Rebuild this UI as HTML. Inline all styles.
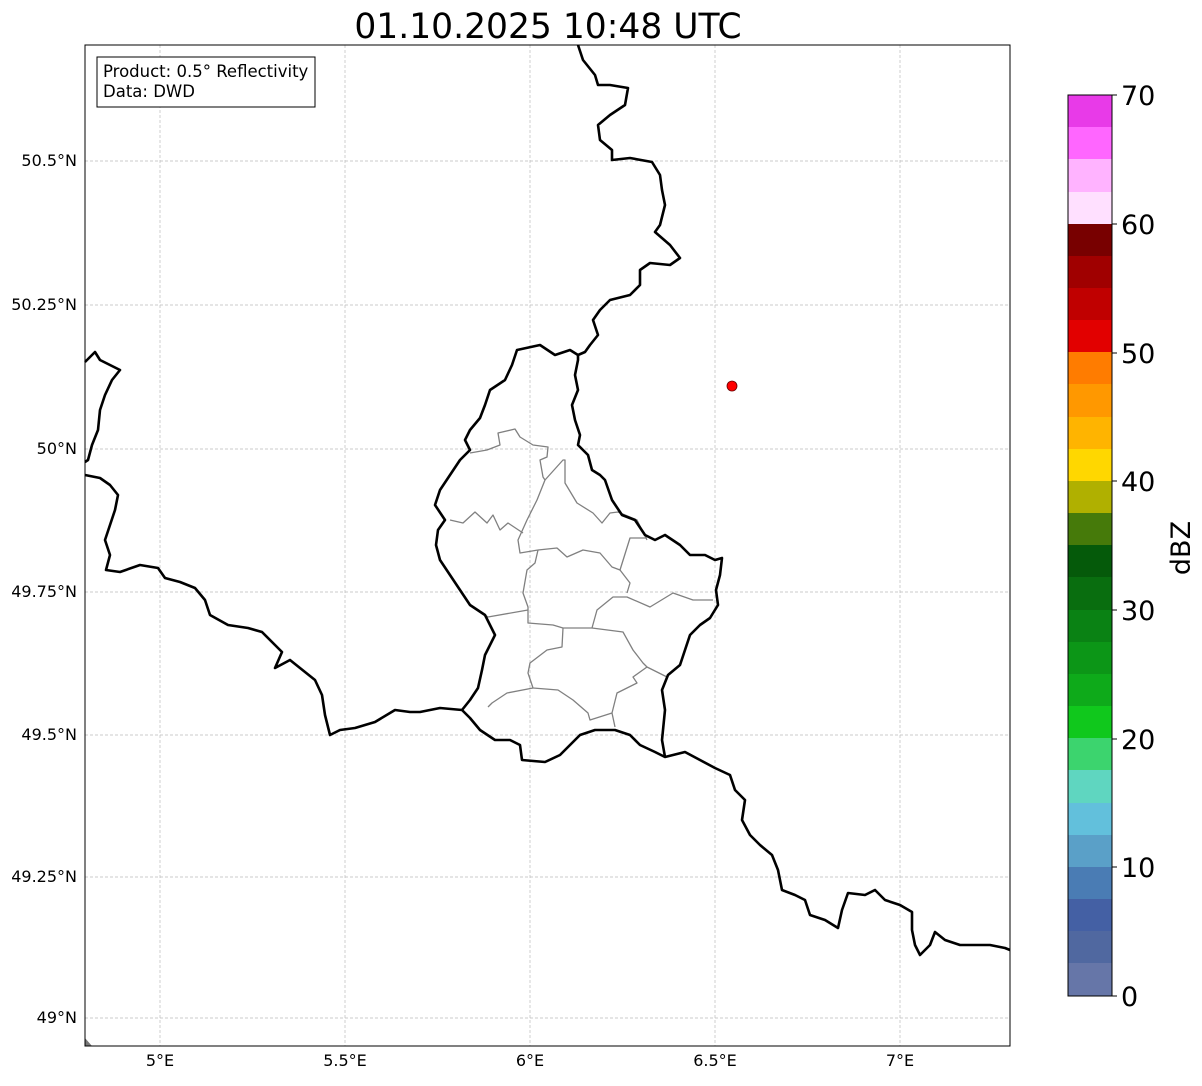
<!DOCTYPE html>
<html><head><meta charset="utf-8"><style>
body{margin:0;background:#fff;}
svg text{font-family:"DejaVu Sans","Liberation Sans",sans-serif;}
</style></head><body>
<svg width="1202" height="1081" xmlns="http://www.w3.org/2000/svg">
<rect width="1202" height="1081" fill="#fff"/>
<text x="548" y="38" font-size="34.5" text-anchor="middle">01.10.2025 10:48 UTC</text>
<g stroke="#bbb" stroke-width="0.7" stroke-dasharray="3,2">
<line x1="160" y1="45" x2="160" y2="1046"/><line x1="345" y1="45" x2="345" y2="1046"/><line x1="530" y1="45" x2="530" y2="1046"/><line x1="715" y1="45" x2="715" y2="1046"/><line x1="900" y1="45" x2="900" y2="1046"/>
<line x1="85" y1="161" x2="1010" y2="161"/><line x1="85" y1="305" x2="1010" y2="305"/><line x1="85" y1="449" x2="1010" y2="449"/><line x1="85" y1="592" x2="1010" y2="592"/><line x1="85" y1="735" x2="1010" y2="735"/><line x1="85" y1="877" x2="1010" y2="877"/><line x1="85" y1="1018" x2="1010" y2="1018"/>
</g>
<g fill="none" stroke="#808080" stroke-width="1.3" stroke-linejoin="round">
<polyline points="470,453 487,450 500,445 498,433 515,429 520,437 533,445 548,447 547,457 540,460 543,477 545,480 537,500 527,520 518,540 520,553 538,550"/>
<polyline points="450,520 463,523 475,512 487,523 493,515 500,530 508,523 523,533"/>
<polyline points="545,480 563,460 565,460 565,483 577,503 593,513 602,523 610,513 618,512 637,520 647,540"/>
<polyline points="538,550 557,548 567,557 583,550 600,553 612,567 620,570 630,538 647,538"/>
<polyline points="620,570 630,583 627,593"/>
<polyline points="538,550 535,563 527,570 523,593 528,607 528,623 553,625 563,628 592,628 597,610 613,597 627,597 650,607 673,593 693,600 713,600"/>
<polyline points="592,628 623,632 633,650 643,663 647,667 667,677"/>
<polyline points="647,667 633,677 637,683 617,693 612,713 615,727"/>
<polyline points="612,713 590,720 588,713 573,700 558,690 533,688 528,673 530,663 547,650 562,647 563,628"/>
<polyline points="528,610 488,617 482,613"/>
<polyline points="533,688 507,693 492,703 488,707"/>
</g>
<g fill="none" stroke="#000" stroke-width="2.6" stroke-linejoin="round">
<polyline points="578,45 583,60 595,75 598,85 610,85 628,88 625,105 610,115 598,125 600,140 612,150 612,160 630,158 652,162 660,175 662,190 665,205 660,225 655,232 670,245 680,258 670,265 650,263 640,270 640,285 630,295 610,300 600,310 593,320 598,335 590,345 585,352 578,355 578,360 575,375 578,390 572,405 575,420 580,435 578,445 588,455 592,470 600,475 605,480 612,500 622,515 635,520 645,535 655,540 665,535 680,545 690,555 705,555 715,560 722,558 720,575 716,590 718,605 710,618 700,625 690,635 685,650 680,665 668,675 662,690 665,710 662,740 665,757"/>
<polyline points="578,355 570,350 555,355 540,345 517,350 512,365 505,380 490,390 485,405 480,418 470,430 465,440 470,450 460,460 450,475 440,490 435,505 445,520 438,530 436,545 440,560 450,575 460,590 470,605 485,615 490,625 495,635 485,655 482,670 478,688 470,700 462,710"/>
<polyline points="85,362 95,352 100,360 110,365 120,370 112,380 105,395 100,410 98,430 92,445 88,460 85,462"/>
<polyline points="85,475 100,478 110,485 118,495 115,510 110,525 105,540 110,555 106,570 120,572 140,565 158,568 165,578 180,582 195,588 205,600 210,615 228,625 248,628 262,632 275,645 282,652 275,668 290,660 300,668 315,680 322,695 325,715 330,735 340,730 355,728 375,722 395,710 410,712 420,712 440,708 462,710 470,718 480,730 495,740 510,740 520,745 522,760 545,762 560,755 570,745 580,735 595,730 615,730 630,735 640,745 655,752 665,757 685,752 700,760 715,768 730,775 735,790 745,800 742,820 750,835 760,845 772,855 778,870 782,890 795,895 805,900 810,915 825,920 838,928 842,910 848,893 865,895 875,890 885,900 900,905 912,912 912,930 915,945 920,955 930,945 935,932 945,940 960,945 975,945 990,945 1005,948 1010,950"/>
</g>
<circle cx="732" cy="386" r="5" fill="#f00" stroke="#600" stroke-width="0.8"/>
<polygon points="85,1038 92,1046 85,1046" fill="#777"/>
<rect x="85" y="45" width="925" height="1001" fill="none" stroke="#000" stroke-width="1"/>
<rect x="97" y="57" width="218" height="50" fill="#fff" stroke="#000" stroke-width="1"/>
<text x="103" y="77" font-size="16.5">Product: 0.5° Reflectivity</text>
<text x="103" y="97" font-size="16.5">Data: DWD</text>
<g font-size="16" text-anchor="end">
<text x="77" y="166">50.5°N</text><text x="77" y="310">50.25°N</text><text x="77" y="454">50°N</text><text x="77" y="597">49.75°N</text><text x="77" y="740">49.5°N</text><text x="77" y="882">49.25°N</text><text x="77" y="1023">49°N</text>
</g>
<g font-size="16" text-anchor="middle">
<text x="160" y="1066">5°E</text><text x="345" y="1066">5.5°E</text><text x="530" y="1066">6°E</text><text x="715" y="1066">6.5°E</text><text x="900" y="1066">7°E</text>
</g>
<g>
<rect x="1068" y="95" width="44" height="33" fill="#e83ae8"/>
<rect x="1068" y="127" width="44" height="33" fill="#ff66ff"/>
<rect x="1068" y="159" width="44" height="33" fill="#ffb3ff"/>
<rect x="1068" y="192" width="44" height="33" fill="#ffe0ff"/>
<rect x="1068" y="224" width="44" height="33" fill="#780000"/>
<rect x="1068" y="256" width="44" height="33" fill="#a00000"/>
<rect x="1068" y="288" width="44" height="33" fill="#c00000"/>
<rect x="1068" y="320" width="44" height="33" fill="#e20000"/>
<rect x="1068" y="352" width="44" height="33" fill="#ff7c00"/>
<rect x="1068" y="384" width="44" height="33" fill="#ff9800"/>
<rect x="1068" y="417" width="44" height="33" fill="#ffb400"/>
<rect x="1068" y="449" width="44" height="33" fill="#ffd700"/>
<rect x="1068" y="481" width="44" height="33" fill="#b0b000"/>
<rect x="1068" y="513" width="44" height="33" fill="#467a0a"/>
<rect x="1068" y="545" width="44" height="33" fill="#055a0a"/>
<rect x="1068" y="577" width="44" height="33" fill="#096e0f"/>
<rect x="1068" y="610" width="44" height="33" fill="#0a8214"/>
<rect x="1068" y="642" width="44" height="33" fill="#0c9617"/>
<rect x="1068" y="674" width="44" height="33" fill="#0eaa1a"/>
<rect x="1068" y="706" width="44" height="33" fill="#10c81c"/>
<rect x="1068" y="738" width="44" height="33" fill="#3cd46e"/>
<rect x="1068" y="770" width="44" height="33" fill="#5fd6c0"/>
<rect x="1068" y="803" width="44" height="33" fill="#62c0dc"/>
<rect x="1068" y="835" width="44" height="33" fill="#5aa0c8"/>
<rect x="1068" y="867" width="44" height="33" fill="#4a7cb4"/>
<rect x="1068" y="899" width="44" height="33" fill="#4460a4"/>
<rect x="1068" y="931" width="44" height="33" fill="#5068a0"/>
<rect x="1068" y="963" width="44" height="33" fill="#6676a8"/>
<rect x="1068" y="95" width="44" height="901" fill="none" stroke="#000" stroke-width="1"/>
</g>
<g stroke="#000" stroke-width="1">
<line x1="1112" y1="996" x2="1117" y2="996"/><line x1="1112" y1="867" x2="1117" y2="867"/><line x1="1112" y1="739" x2="1117" y2="739"/><line x1="1112" y1="610" x2="1117" y2="610"/><line x1="1112" y1="481" x2="1117" y2="481"/><line x1="1112" y1="353" x2="1117" y2="353"/><line x1="1112" y1="224" x2="1117" y2="224"/><line x1="1112" y1="95" x2="1117" y2="95"/>
</g>
<g font-size="27">
<text x="1121" y="1006">0</text><text x="1121" y="877">10</text><text x="1121" y="749">20</text><text x="1121" y="620">30</text><text x="1121" y="491">40</text><text x="1121" y="363">50</text><text x="1121" y="234">60</text><text x="1121" y="105">70</text>
</g>
<text transform="translate(1190,548) rotate(-90)" font-size="27" text-anchor="middle">dBZ</text>
</svg>
</body></html>
